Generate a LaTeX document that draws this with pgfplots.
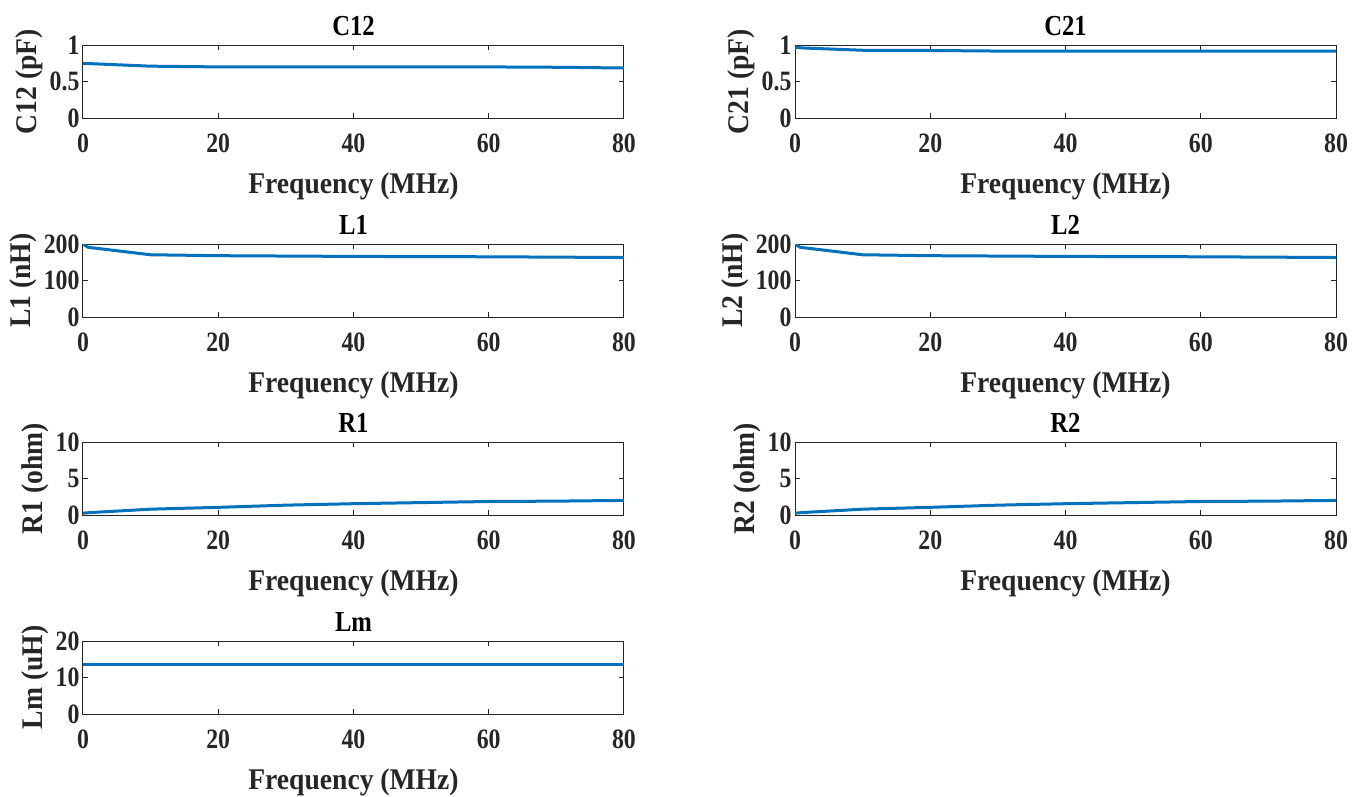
\documentclass[border=0pt]{standalone}
\usepackage{fontspec}
\setmainfont{Liberation Serif}
\newfontfamily\condfont{Liberation Serif}[FakeStretch=0.85]
\newfontfamily\labfont{Liberation Serif}[FakeStretch=0.92]
\usepackage{pgfplots}
\pgfplotsset{compat=1.18}
\definecolor{mblue}{HTML}{0072BD}
\definecolor{axgray}{HTML}{262626}
\pgfplotsset{mystyle/.style={
  scale only axis, width=541pt, height=73pt,
  xmin=0, xmax=80, xtick={0,20,40,60,80},
  axis line style={axgray, line width=1pt},
  tick style={axgray, line width=1pt},
  tick align=inside, major tick length=5pt,
  tick pos=both,
  xticklabel pos=bottom, yticklabel pos=left,
  ticklabel style={font=\condfont\bfseries\fontsize{28}{30}\selectfont, text=axgray},
  xticklabel style={yshift=-12pt},
  label style={font=\labfont\bfseries\fontsize{30}{33}\selectfont, text=axgray},
  xlabel style={yshift=-13pt},
  title style={font=\condfont\bfseries\fontsize{29}{32}\selectfont, text=black},
  xlabel={Frequency (MHz)},
  /pgf/number format/assume math mode=true,
  scaled ticks=false,
  cycle list={{mblue, mark=none}},
  every axis plot post/.append style={line width=3pt, line join=round},
  anchor=north west,
}}
\begin{document}
\begin{tikzpicture}
\useasboundingbox (0,0) rectangle (1363pt,-796pt);
% C12
\begin{axis}[mystyle, at={(83pt,-45pt)}, ymin=0, ymax=1, ytick={0,0.5,1},
  title={C12}, ylabel={C12 (pF)}]
\addplot coordinates {(0,0.75) (1,0.745) (10,0.71) (20,0.70) (40,0.70) (60,0.70) (70,0.695) (80,0.685)};
\end{axis}
% C21
\begin{axis}[mystyle, at={(795pt,-45pt)}, ymin=0, ymax=1, ytick={0,0.5,1},
  title={C21}, ylabel={C21 (pF)}]
\addplot coordinates {(0,0.968) (1,0.96) (10,0.928) (20,0.925) (30,0.917) (40,0.916) (60,0.915) (80,0.915)};
\end{axis}
% L1
\begin{axis}[mystyle, at={(83pt,-244pt)}, ymin=0, ymax=200, ytick={0,100,200},
  title={L1}, ylabel={L1 (nH)}]
\addplot coordinates {(0,200) (0.75,191) (10,170.5) (20,168) (40,166) (60,165) (80,163)};
\end{axis}
% L2
\begin{axis}[mystyle, at={(795pt,-244pt)}, ymin=0, ymax=200, ytick={0,100,200},
  title={L2}, ylabel={L2 (nH)}]
\addplot coordinates {(0,200) (0.75,191) (10,170.5) (20,168) (40,166) (60,165) (80,163)};
\end{axis}
% R1
\begin{axis}[mystyle, at={(83pt,-442pt)}, ymin=0, ymax=10, ytick={0,5,10},
  title={R1}, ylabel={R1 (ohm)}]
\addplot coordinates {(0,0.25) (1,0.33) (10,0.8) (20,1.05) (30,1.35) (40,1.55) (50,1.7) (60,1.85) (70,1.9) (80,2.0)};
\end{axis}
% R2
\begin{axis}[mystyle, at={(795pt,-442pt)}, ymin=0, ymax=10, ytick={0,5,10},
  title={R2}, ylabel={R2 (ohm)}]
\addplot coordinates {(0,0.25) (1,0.33) (10,0.8) (20,1.05) (30,1.35) (40,1.55) (50,1.7) (60,1.85) (70,1.9) (80,2.0)};
\end{axis}
% Lm
\begin{axis}[mystyle, at={(83pt,-641pt)}, ymin=0, ymax=20, ytick={0,10,20},
  title={Lm}, ylabel={Lm (uH)}]
\addplot coordinates {(0,13.7) (20,13.7) (40,13.7) (60,13.7) (80,13.7)};
\end{axis}
\end{tikzpicture}
\end{document}
